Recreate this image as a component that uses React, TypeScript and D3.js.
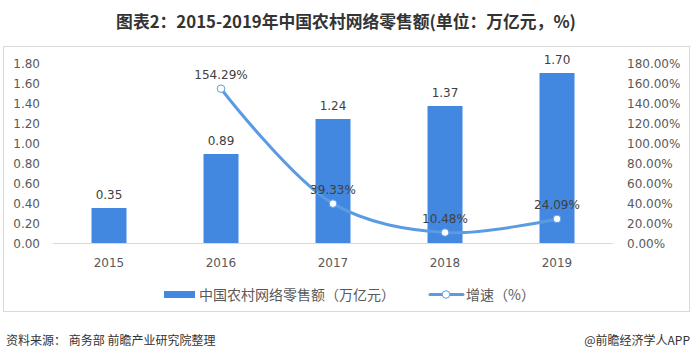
import React from 'react';
import * as d3 from 'd3';

const years = ['2015', '2016', '2017', '2018', '2019'];
const sales = [0.35, 0.89, 1.24, 1.37, 1.7];
const growth = [null, 154.29, 39.33, 10.48, 24.09];
const leftTicks = [0, 0.2, 0.4, 0.6, 0.8, 1.0, 1.2, 1.4, 1.6, 1.8];
const rightTicks = [0, 20, 40, 60, 80, 100, 120, 140, 160, 180];

const W = 694;
const H = 362;
const barColor = '#4287e0';
const lineColor = '#5b9be4';
const numFont = '"DejaVu Sans", Verdana, sans-serif';
const cjkFont = '"Noto Sans CJK SC", "Noto Sans", sans-serif';

const App: React.FC = () => {
  const x = d3.scaleBand<string>().domain(years).range([53, 613]);
  const yL = d3.scaleLinear().domain([0, 1.8]).range([243, 63]);
  const yR = d3.scaleLinear().domain([0, 180]).range([243, 63]);
  const barW = 35;

  const pts = years
    .map((yr, i) => ({ yr, v: growth[i] }))
    .filter(d => d.v !== null) as { yr: string; v: number }[];

  const line = d3.line<{ yr: string; v: number }>()
    .x(d => (x(d.yr) ?? 0) + x.bandwidth() / 2)
    .y(d => yR(d.v))
    .curve(d3.curveCatmullRom.alpha(0.5));

  return (
    <svg width={W} height={H} style={{ position: 'absolute', left: 0, top: 0, background: '#fff' }}>
      <text x={346} y={28} textAnchor="middle" fontFamily={cjkFont} fontWeight="bold" fontSize={16.8} fill="#333">
        图表2：2015-2019年中国农村网络零售额(单位：万亿元，%)
      </text>
      <rect x={3.5} y={46.5} width={686} height={265} fill="none" stroke="#d9d9d9" />

      {leftTicks.map(t => (
        <text key={'l' + t} x={40} y={yL(t) + 4.5} textAnchor="end" fontFamily={numFont} fontSize={12} fill="#595959">
          {t.toFixed(2)}
        </text>
      ))}
      {rightTicks.map(t => (
        <text key={'r' + t} x={627} y={yR(t) + 4.5} textAnchor="start" fontFamily={numFont} fontSize={12} fill="#595959">
          {t.toFixed(2)}%
        </text>
      ))}

      {years.map((yr, i) => {
        const cx = (x(yr) ?? 0) + x.bandwidth() / 2;
        return (
          <g key={yr}>
            <rect x={cx - barW / 2} y={yL(sales[i])} width={barW} height={yL(0) - yL(sales[i])} fill={barColor} />
            <text x={cx} y={yL(sales[i]) - 9} textAnchor="middle" fontFamily={numFont} fontSize={12} fill="#404040">
              {sales[i].toFixed(2)}
            </text>
            <text x={cx} y={267} textAnchor="middle" fontFamily={numFont} fontSize={12} fill="#595959">
              {yr}
            </text>
          </g>
        );
      })}

      <line x1={53} x2={613} y1={243.5} y2={243.5} stroke="#d9d9d9" />

      <path d={line(pts) ?? ''} fill="none" stroke={lineColor} strokeWidth={3} strokeLinecap="round" />
      {pts.map(d => {
        const cx = (x(d.yr) ?? 0) + x.bandwidth() / 2;
        return (
          <g key={'p' + d.yr}>
            <circle cx={cx} cy={yR(d.v)} r={3.8} fill="#fff" stroke={lineColor} strokeWidth={1} />
            <text x={cx} y={yR(d.v) - 10} textAnchor="middle" fontFamily={numFont} fontSize={12} fill="#404040">
              {d.v.toFixed(2)}%
            </text>
          </g>
        );
      })}

      <rect x={164} y={291} width={31} height={7} fill={barColor} />
      <text x={199} y={299.5} fontFamily={cjkFont} fontSize={14} fill="#595959">中国农村网络零售额（万亿元）</text>
      <line x1={430} x2={463} y1={294.5} y2={294.5} stroke={lineColor} strokeWidth={3} strokeLinecap="round" />
      <circle cx={446} cy={294.5} r={3.8} fill="#fff" stroke={lineColor} strokeWidth={1} />
      <text x={466} y={299.5} fontFamily={cjkFont} fontSize={14} fill="#595959">增速（%）</text>

      <text x={6} y={345} fontFamily={cjkFont} fontSize={12} fill="#333">资料来源： 商务部 前瞻产业研究院整理</text>
      <text x={690} y={345} textAnchor="end" fontFamily={cjkFont} fontSize={12} fill="#333">@前瞻经济学人APP</text>
    </svg>
  );
};

export default App;
